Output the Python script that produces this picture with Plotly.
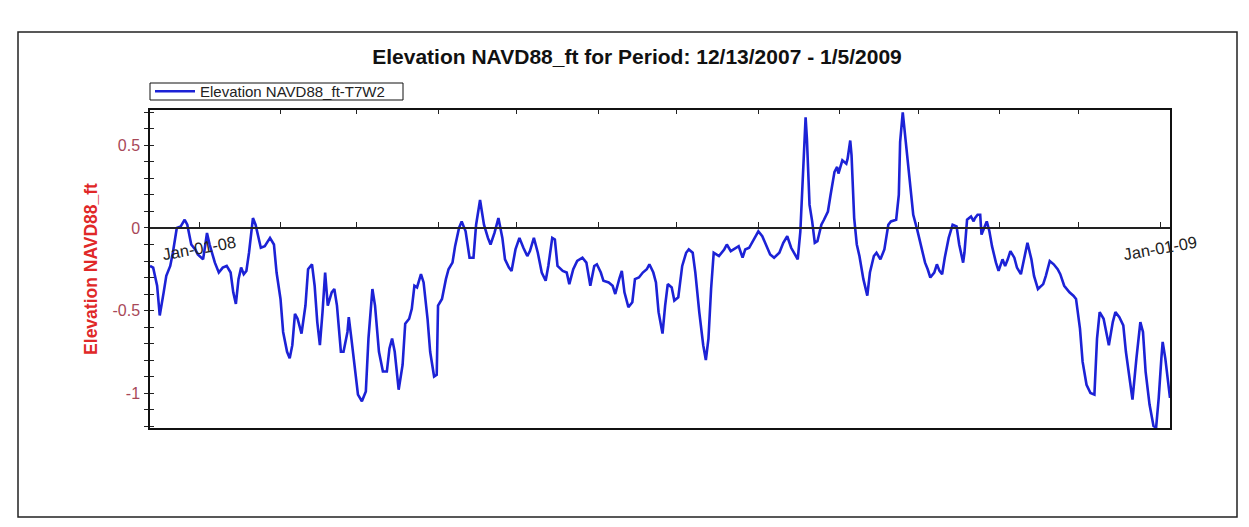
import plotly.graph_objects as go

# ---------------- data ----------------
obs_time = [
    "2007-12-13 07:00", "2007-12-14 12:00", "2007-12-16", "2007-12-17", "2007-12-18 12:00",
    "2007-12-19 12:00", "2007-12-21", "2007-12-22", "2007-12-23 12:00", "2007-12-25",
    "2007-12-26 12:00", "2007-12-27 12:00", "2007-12-29", "2007-12-30 12:00", "2007-12-31 12:00",
    "2008-01-02 12:00", "2008-01-03", "2008-01-04", "2008-01-05", "2008-01-06",
    "2008-01-07", "2008-01-08 12:00", "2008-01-10", "2008-01-11 12:00", "2008-01-13",
    "2008-01-14", "2008-01-15", "2008-01-16", "2008-01-17", "2008-01-18",
    "2008-01-19", "2008-01-20", "2008-01-21 12:00", "2008-01-22 12:00", "2008-01-23 12:00",
    "2008-01-24 12:00", "2008-01-26", "2008-01-28", "2008-01-29 12:00", "2008-01-30 12:00",
    "2008-02-01", "2008-02-02", "2008-02-03 12:00", "2008-02-04 12:00", "2008-02-05 12:00",
    "2008-02-06 12:00", "2008-02-07 12:00", "2008-02-09", "2008-02-10 12:00", "2008-02-11 12:00",
    "2008-02-13", "2008-02-14", "2008-02-15", "2008-02-16", "2008-02-17",
    "2008-02-18", "2008-02-19", "2008-02-20 12:00", "2008-02-21 12:00", "2008-02-22 12:00",
    "2008-02-24", "2008-02-25", "2008-02-26 12:00", "2008-02-27", "2008-02-28",
    "2008-02-29 12:00", "2008-03-01 12:00", "2008-03-03", "2008-03-04 12:00", "2008-03-05 12:00",
    "2008-03-07", "2008-03-08", "2008-03-09 12:00", "2008-03-11", "2008-03-12 12:00",
    "2008-03-13 12:00", "2008-03-14 12:00", "2008-03-15 12:00", "2008-03-17", "2008-03-18 12:00",
    "2008-03-19 12:00", "2008-03-21", "2008-03-22", "2008-03-23", "2008-03-24",
    "2008-03-25 12:00", "2008-03-26 12:00", "2008-03-28", "2008-03-29", "2008-03-30 12:00",
    "2008-03-31 12:00", "2008-04-01", "2008-04-02 12:00", "2008-04-04", "2008-04-05",
    "2008-04-06 12:00", "2008-04-07 12:00", "2008-04-09", "2008-04-10", "2008-04-11 12:00",
    "2008-04-13", "2008-04-14 12:00", "2008-04-15 12:00", "2008-04-17", "2008-04-18 12:00",
    "2008-04-20", "2008-04-21", "2008-04-22 12:00", "2008-04-24", "2008-04-25 12:00",
    "2008-04-26 12:00", "2008-04-28", "2008-04-29", "2008-04-30 12:00", "2008-05-02",
    "2008-05-03 12:00", "2008-05-05", "2008-05-06", "2008-05-07 12:00", "2008-05-09",
    "2008-05-10 12:00", "2008-05-12", "2008-05-13", "2008-05-14 12:00", "2008-05-15 12:00",
    "2008-05-16 12:00", "2008-05-18 12:00", "2008-05-20", "2008-05-21", "2008-05-22 12:00",
    "2008-05-24", "2008-05-26", "2008-05-27 12:00", "2008-05-29", "2008-05-30 12:00",
    "2008-05-31 12:00", "2008-06-02", "2008-06-03", "2008-06-05", "2008-06-06 12:00",
    "2008-06-07 12:00", "2008-06-09", "2008-06-10", "2008-06-11", "2008-06-12 12:00",
    "2008-06-14", "2008-06-15", "2008-06-16 12:00", "2008-06-18", "2008-06-19 12:00",
    "2008-06-20 12:00", "2008-06-22", "2008-06-23", "2008-06-24", "2008-06-25 12:00",
    "2008-06-26 12:00", "2008-06-27 12:00", "2008-06-29", "2008-06-30", "2008-07-01 12:00",
    "2008-07-03", "2008-07-04 12:00", "2008-07-05 12:00", "2008-07-07", "2008-07-08",
    "2008-07-09 12:00", "2008-07-11", "2008-07-12", "2008-07-13", "2008-07-14",
    "2008-07-15", "2008-07-16", "2008-07-17", "2008-07-19", "2008-07-20",
    "2008-07-21 12:00", "2008-07-22 12:00", "2008-07-24 12:00", "2008-07-26", "2008-07-27",
    "2008-07-28 12:00", "2008-07-30", "2008-07-31", "2008-08-01", "2008-08-02 12:00",
    "2008-08-04", "2008-08-05 12:00", "2008-08-07", "2008-08-09", "2008-08-10 12:00",
    "2008-08-12", "2008-08-13 12:00", "2008-08-14 12:00", "2008-08-16", "2008-08-17",
    "2008-08-18", "2008-08-19", "2008-08-19 12:00", "2008-08-20 12:00", "2008-08-21 12:00",
    "2008-08-22 12:00", "2008-08-23 12:00", "2008-08-25", "2008-08-26", "2008-08-27 12:00",
    "2008-08-28 12:00", "2008-08-30", "2008-08-31", "2008-08-31 12:00", "2008-09-02",
    "2008-09-03 12:00", "2008-09-04", "2008-09-05", "2008-09-05 12:00", "2008-09-06 12:00",
    "2008-09-07 12:00", "2008-09-08 12:00", "2008-09-10", "2008-09-11 12:00", "2008-09-12 12:00",
    "2008-09-14", "2008-09-15", "2008-09-16 12:00", "2008-09-18", "2008-09-19 12:00",
    "2008-09-20 12:00", "2008-09-22 12:00", "2008-09-23 12:00", "2008-09-24", "2008-09-25",
    "2008-09-26", "2008-09-27 12:00", "2008-09-29", "2008-09-30 12:00", "2008-10-02",
    "2008-10-03 12:00", "2008-10-04 12:00", "2008-10-05 12:00", "2008-10-07", "2008-10-08",
    "2008-10-09", "2008-10-10", "2008-10-11", "2008-10-12 12:00", "2008-10-14",
    "2008-10-15 12:00", "2008-10-16 12:00", "2008-10-18", "2008-10-18 12:00", "2008-10-19 12:00",
    "2008-10-21", "2008-10-22", "2008-10-22 12:00", "2008-10-23 12:00", "2008-10-24 12:00",
    "2008-10-25", "2008-10-26", "2008-10-27", "2008-10-28", "2008-10-29",
    "2008-10-30 12:00", "2008-10-31 12:00", "2008-11-02", "2008-11-03", "2008-11-04",
    "2008-11-05", "2008-11-06 12:00", "2008-11-07 12:00", "2008-11-09", "2008-11-10 12:00",
    "2008-11-11 12:00", "2008-11-13", "2008-11-14", "2008-11-15 12:00", "2008-11-17 12:00",
    "2008-11-18 12:00", "2008-11-20", "2008-11-21 12:00", "2008-11-23", "2008-11-24",
    "2008-11-25 12:00", "2008-11-27 12:00", "2008-11-29", "2008-11-30", "2008-12-01 12:00",
    "2008-12-02 12:00", "2008-12-04", "2008-12-05 12:00", "2008-12-07", "2008-12-08",
    "2008-12-09", "2008-12-10 12:00", "2008-12-11 12:00", "2008-12-12 12:00", "2008-12-14",
    "2008-12-15", "2008-12-16 12:00", "2008-12-18", "2008-12-19", "2008-12-20 12:00",
    "2008-12-21 12:00", "2008-12-23", "2008-12-24 12:00", "2008-12-25 12:00", "2008-12-26 12:00",
    "2008-12-28", "2008-12-29 12:00", "2008-12-30 12:00", "2008-12-31 12:00", "2009-01-01 12:00",
    "2009-01-02", "2009-01-03", "2009-01-04", "2009-01-04 19:00",
]

elev_ft = [
    -0.23, -0.24, -0.35, -0.53, -0.39,
    -0.29, -0.23, -0.15, 0.00, 0.01,
    0.05, 0.02, -0.10, -0.13, -0.16,
    -0.19, -0.14, -0.03, -0.10, -0.16,
    -0.21, -0.27, -0.24, -0.23, -0.27,
    -0.39, -0.46, -0.31, -0.24, -0.28,
    -0.26, -0.15, 0.06, 0.02, -0.06,
    -0.12, -0.11, -0.06, -0.10, -0.27,
    -0.43, -0.63, -0.75, -0.79, -0.71,
    -0.52, -0.55, -0.64, -0.47, -0.25,
    -0.22, -0.35, -0.57, -0.71, -0.51,
    -0.27, -0.47, -0.39, -0.37, -0.47,
    -0.75, -0.75, -0.63, -0.54, -0.67,
    -0.87, -1.01, -1.05, -0.99, -0.67,
    -0.37, -0.47, -0.75, -0.87, -0.87,
    -0.73, -0.67, -0.75, -0.98, -0.83,
    -0.58, -0.55, -0.49, -0.35, -0.36,
    -0.28, -0.33, -0.55, -0.75, -0.90,
    -0.89, -0.47, -0.43, -0.31, -0.25,
    -0.21, -0.11, 0.00, 0.04, -0.02,
    -0.18, -0.18, 0.02, 0.17, 0.02,
    -0.06, -0.10, -0.03, 0.06, -0.06,
    -0.19, -0.24, -0.26, -0.13, -0.06,
    -0.12, -0.17, -0.14, -0.06, -0.15,
    -0.27, -0.32, -0.23, -0.06, -0.07,
    -0.23, -0.26, -0.27, -0.34, -0.25,
    -0.20, -0.18, -0.21, -0.35, -0.23,
    -0.22, -0.27, -0.32, -0.33, -0.35,
    -0.40, -0.31, -0.26, -0.39, -0.48,
    -0.45, -0.31, -0.30, -0.27, -0.25,
    -0.22, -0.27, -0.33, -0.51, -0.64,
    -0.47, -0.34, -0.36, -0.44, -0.42,
    -0.23, -0.15, -0.13, -0.15, -0.27,
    -0.51, -0.71, -0.80, -0.67, -0.37,
    -0.15, -0.16, -0.17, -0.13, -0.10,
    -0.14, -0.13, -0.11, -0.18, -0.13,
    -0.12, -0.08, -0.05, -0.02, -0.05,
    -0.11, -0.16, -0.18, -0.15, -0.09,
    -0.05, -0.12, -0.15, -0.19, -0.02,
    0.34, 0.67, 0.54, 0.14, 0.04,
    -0.09, -0.08, 0.02, 0.05, 0.10,
    0.20, 0.34, 0.37, 0.33, 0.41,
    0.39, 0.42, 0.53, 0.44, 0.06,
    -0.10, -0.17, -0.31, -0.41, -0.27,
    -0.17, -0.15, -0.19, -0.13, 0.02,
    0.04, 0.05, 0.20, 0.52, 0.70,
    0.54, 0.30, 0.08, -0.01, -0.11,
    -0.21, -0.25, -0.30, -0.27, -0.22,
    -0.26, -0.28, -0.18, -0.06, 0.02,
    0.01, -0.10, -0.21, -0.15, 0.05,
    0.07, 0.04, 0.06, 0.08, 0.08,
    -0.04, 0.00, 0.04, -0.02, -0.11,
    -0.21, -0.26, -0.19, -0.23, -0.19,
    -0.14, -0.18, -0.24, -0.28, -0.17,
    -0.09, -0.19, -0.29, -0.37, -0.34,
    -0.29, -0.20, -0.22, -0.25, -0.28,
    -0.35, -0.39, -0.41, -0.43, -0.61,
    -0.81, -0.95, -1.00, -1.01, -0.67,
    -0.51, -0.55, -0.63, -0.71, -0.57,
    -0.51, -0.54, -0.59, -0.75, -0.93,
    -1.04, -0.79, -0.57, -0.63, -0.87,
    -1.07, -1.20, -1.21, -1.03, -0.79,
    -0.69, -0.79, -0.91, -1.03,
]

series_name = "Elevation NAVD88_ft-T7W2"
chart_title = "Elevation NAVD88_ft for Period: 12/13/2007 - 1/5/2009"
y_title = "Elevation NAVD88_ft"

x_range = ["2007-12-13 07:00", "2009-01-04 19:00"]
y_range = [-1.212, 0.715]

month_ticks = ["2008-01-01", "2008-02-01", "2008-03-01", "2008-04-01", "2008-05-01",
               "2008-06-01", "2008-07-01", "2008-08-01", "2008-09-01", "2008-10-01",
               "2008-11-01", "2008-12-01", "2009-01-01"]
top_ticks = month_ticks[1:12]
date_label_pos = ["2008-01-01", "2009-01-01"]
date_label_text = ["Jan-01-08", "Jan-01-09"]

y_tick_vals = [-1.2, -1.1, -1.0, -0.9, -0.8, -0.7, -0.6, -0.5, -0.4, -0.3,
               -0.2, -0.1, 0.0, 0.1, 0.2, 0.3, 0.4, 0.5, 0.6, 0.7]
y_tick_text = ["", "", "-1", "", "", "", "", "-0.5", "", "",
               "", "", "0", "", "", "", "", "0.5", "", ""]

# ---------------- layout geometry (pixels) ----------------
W, H = 1249, 527
ML, MR, MT, MB = 150, 79, 110, 99
PW, PH = W - ML - MR, H - MT - MB
FONT = "Arial, Liberation Sans, sans-serif"


def px_x(p):
    return (p - ML) / PW


def px_y(p):
    return (H - MB - p) / PH


zero_pos = (0 - y_range[0]) / (y_range[1] - y_range[0])

fig = go.Figure()
fig.add_trace(go.Scatter(
    x=obs_time, y=elev_ft, mode="lines", name=series_name,
    line=dict(color="#1c22d6", width=2.6), xaxis="x", yaxis="y",
))
# helper (empty) traces so the overlay axes are drawn
fig.add_trace(go.Scatter(x=[], y=[], xaxis="x2", yaxis="y", showlegend=False, hoverinfo="skip"))
fig.add_trace(go.Scatter(x=[], y=[], xaxis="x3", yaxis="y", showlegend=False, hoverinfo="skip"))
fig.add_trace(go.Scatter(x=[], y=[], xaxis="x", yaxis="y2", showlegend=False, hoverinfo="skip"))

annotations = []
for pos, txt in zip(date_label_pos, date_label_text):
    annotations.append(dict(
        x=pos, y=0, xref="x", yref="y", text=txt, showarrow=False,
        textangle=-10, yshift=-20, font=dict(family=FONT, size=16.5, color="#222"),
    ))

fig.update_layout(
    width=W, height=H,
    margin=dict(l=ML, r=MR, t=MT, b=MB),
    paper_bgcolor="white", plot_bgcolor="white",
    title=dict(text=chart_title, x=px_x(637), xref="paper", xanchor="center",
               y=1 - 57 / H, yref="container", yanchor="middle",
               font=dict(family=FONT, size=21, color="#111", weight="bold")),
    showlegend=True,
    legend=dict(x=0, xanchor="left", y=px_y(91.5), yanchor="middle",
                borderwidth=0, bgcolor="rgba(0,0,0,0)", itemwidth=40,
                font=dict(family=FONT, size=15, color="#222")),
    xaxis=dict(type="date", range=x_range, showgrid=False, zeroline=False,
               showline=True, linecolor="#111", linewidth=1.5, mirror=True,
               ticks="", showticklabels=False),
    xaxis2=dict(type="date", overlaying="x", matches="x", anchor="free",
                position=zero_pos, side="bottom", showline=True,
                linecolor="#222", linewidth=1.5, ticks="inside",
                tickvals=month_ticks, ticklen=5, tickwidth=1, tickcolor="#222",
                showticklabels=False, showgrid=False, zeroline=False),
    xaxis3=dict(type="date", overlaying="x", matches="x", anchor="y",
                side="top", ticks="inside", tickvals=top_ticks, ticklen=4,
                tickwidth=1, tickcolor="#222", showticklabels=False,
                showline=False, showgrid=False, zeroline=False),
    yaxis=dict(range=y_range, showgrid=False, zeroline=False,
               showline=True, linecolor="#111", linewidth=1.5, mirror=True,
               ticks="outside", ticklen=4, tickwidth=1, tickcolor="#222",
               tickvals=y_tick_vals, ticktext=y_tick_text, ticklabelstandoff=1,
               tickfont=dict(family=FONT, size=16, color="#a84858"),
               title=dict(text=y_title, standoff=10,
                          font=dict(family=FONT, size=17.5, color="#e02828", weight="bold"))),
    yaxis2=dict(overlaying="y", matches="y", anchor="x", side="left",
                ticks="inside", tickvals=y_tick_vals, ticklen=4, tickwidth=1,
                tickcolor="#222", showticklabels=False, showline=False,
                showgrid=False, zeroline=False),
    shapes=[
        dict(type="rect", xref="paper", yref="paper",
             x0=px_x(18), x1=px_x(1237), y0=px_y(517), y1=px_y(32),
             line=dict(color="#222", width=1.5), layer="below"),
        # legend frame
        dict(type="rect", xref="paper", yref="paper",
             x0=px_x(150), x1=px_x(403), y0=px_y(100), y1=px_y(83),
             line=dict(color="#111", width=1), fillcolor="white", layer="below"),
    ],
    annotations=annotations,
)

fig.write_html("out.html", config={"displayModeBar": False},
               post_script="document.body.style.margin='0';")
